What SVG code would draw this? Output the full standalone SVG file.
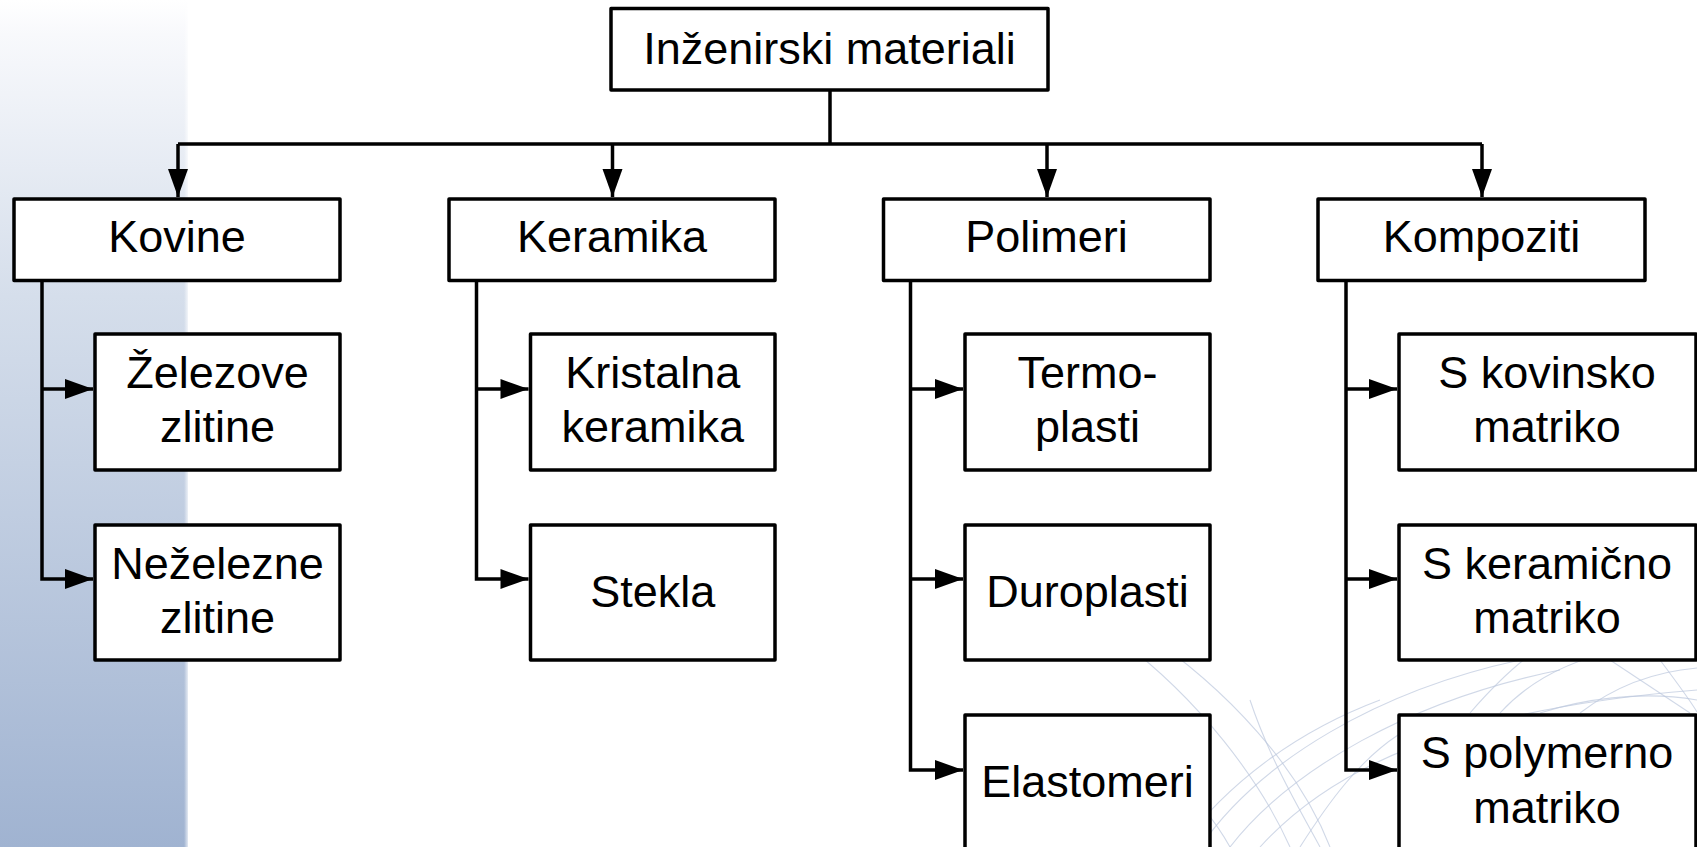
<svg xmlns="http://www.w3.org/2000/svg" width="1697" height="847" viewBox="0 0 1697 847">
  <defs>
    <linearGradient id="bandFill" x1="0" y1="0" x2="0" y2="1">
      <stop offset="0" stop-color="#ffffff"/>
      <stop offset="0.04" stop-color="#f8f9fc"/>
      <stop offset="0.35" stop-color="#d5deeb"/>
      <stop offset="1" stop-color="#a0b3d1"/>
    </linearGradient>
    <linearGradient id="bandEdge" x1="0" y1="0" x2="1" y2="0">
      <stop offset="0" stop-color="#ffffff" stop-opacity="0"/>
      <stop offset="1" stop-color="#ffffff" stop-opacity="0.7"/>
    </linearGradient>
    <marker id="arrow" viewBox="0 0 28 20" markerUnits="userSpaceOnUse" markerWidth="28" markerHeight="20" refX="28" refY="10" orient="auto" overflow="visible">
      <path d="M0,0 L28,10 L0,20 Z" fill="#000"/>
    </marker>
  </defs>
  <style>
    .box { fill: #ffffff; stroke: #000000; stroke-width: 3.5; stroke-linejoin: round; }
    .lbl { font-family: "Liberation Sans", Arial, sans-serif; font-size: 45px; fill: #000000; text-anchor: middle; }
    .wire { fill: none; stroke: #000000; stroke-width: 3.5; }
    .swirl { fill: none; stroke: #bcc8dd; stroke-width: 1.1; opacity: 0.7; }
  </style>

  <rect x="0" y="0" width="1697" height="847" fill="#ffffff"/>

  <!-- left shaded band -->
  <rect x="0" y="0" width="188" height="847" fill="url(#bandFill)"/>
  <rect x="184" y="0" width="4" height="847" fill="url(#bandEdge)"/>

  <!-- faint decorative arcs, lower right -->
  <g id="decor">
    <path class="swirl" d="M1200,847 C1260,760 1380,690 1520,660"/>
    <path class="swirl" d="M1230,847 C1290,770 1410,700 1560,670"/>
    <path class="swirl" d="M1260,847 C1330,770 1450,710 1697,690"/>
    <path class="swirl" d="M1180,847 C1230,780 1300,730 1380,700"/>
    <path class="swirl" d="M1120,640 C1200,700 1260,780 1290,847"/>
    <path class="swirl" d="M1140,630 C1230,690 1300,770 1330,847"/>
    <path class="swirl" d="M1160,760 C1190,790 1215,820 1230,847"/>
    <path class="swirl" d="M1250,700 C1270,760 1300,810 1320,847"/>
    <path class="swirl" d="M1300,847 C1330,800 1360,760 1398,735"/>
    <path class="swirl" d="M1470,713 C1490,690 1510,670 1530,655"/>
    <path class="swirl" d="M1500,713 C1530,680 1570,660 1620,650"/>
    <path class="swirl" d="M1580,713 C1610,690 1650,672 1697,668"/>
    <path class="swirl" d="M1540,713 C1580,700 1640,690 1697,700"/>
    <path class="swirl" d="M1660,660 C1675,680 1690,700 1697,712"/>
    <path class="swirl" d="M1610,660 C1640,680 1670,700 1690,713"/>
  </g>

  <!-- connectors -->
  <g id="connectors">
    <path class="wire" d="M830,90 V144"/>
    <path class="wire" d="M178,144 H1482"/>
    <path class="wire" d="M178,144 V197" marker-end="url(#arrow)"/>
    <path class="wire" d="M612.5,144 V197" marker-end="url(#arrow)"/>
    <path class="wire" d="M1047,144 V197" marker-end="url(#arrow)"/>
    <path class="wire" d="M1482,144 V197" marker-end="url(#arrow)"/>

    <!-- Kovine -->
    <path class="wire" d="M42,281 V579 H93" marker-end="url(#arrow)"/>
    <path class="wire" d="M42,389 H93" marker-end="url(#arrow)"/>
    <!-- Keramika -->
    <path class="wire" d="M476.5,281 V579 H528.5" marker-end="url(#arrow)"/>
    <path class="wire" d="M476.5,389 H528.5" marker-end="url(#arrow)"/>
    <!-- Polimeri -->
    <path class="wire" d="M910.5,281 V770 H963" marker-end="url(#arrow)"/>
    <path class="wire" d="M910.5,389 H963" marker-end="url(#arrow)"/>
    <path class="wire" d="M910.5,579 H963" marker-end="url(#arrow)"/>
    <!-- Kompoziti -->
    <path class="wire" d="M1346,281 V770 H1397" marker-end="url(#arrow)"/>
    <path class="wire" d="M1346,389 H1397" marker-end="url(#arrow)"/>
    <path class="wire" d="M1346,579 H1397" marker-end="url(#arrow)"/>
  </g>

  <!-- root -->
  <g id="node-root">
    <rect class="box" x="611" y="8.5" width="437" height="81.5"/>
    <text class="lbl" x="829.5" y="64">Inženirski materiali</text>
  </g>

  <!-- first level -->
  <g id="node-kovine">
    <rect class="box" x="14" y="199" width="326" height="81.5"/>
    <text class="lbl" x="177" y="252">Kovine</text>
  </g>
  <g id="node-keramika">
    <rect class="box" x="449" y="199" width="326" height="81.5"/>
    <text class="lbl" x="612" y="252">Keramika</text>
  </g>
  <g id="node-polimeri">
    <rect class="box" x="883.5" y="199" width="326.5" height="81.5"/>
    <text class="lbl" x="1046.5" y="252">Polimeri</text>
  </g>
  <g id="node-kompoziti">
    <rect class="box" x="1318" y="199" width="327" height="81.5"/>
    <text class="lbl" x="1481.5" y="252">Kompoziti</text>
  </g>

  <!-- Kovine children -->
  <g id="node-zelezove">
    <rect class="box" x="95" y="334" width="245" height="136"/>
    <text class="lbl" x="217.5" y="388">Železove</text>
    <text class="lbl" x="217.5" y="442">zlitine</text>
  </g>
  <g id="node-nezelezne">
    <rect class="box" x="95" y="525" width="245" height="135"/>
    <text class="lbl" x="217.5" y="579">Neželezne</text>
    <text class="lbl" x="217.5" y="633">zlitine</text>
  </g>

  <!-- Keramika children -->
  <g id="node-kristalna">
    <rect class="box" x="530.5" y="334" width="244.5" height="136"/>
    <text class="lbl" x="652.75" y="388">Kristalna</text>
    <text class="lbl" x="652.75" y="442">keramika</text>
  </g>
  <g id="node-stekla">
    <rect class="box" x="530.5" y="525" width="244.5" height="135"/>
    <text class="lbl" x="652.75" y="607">Stekla</text>
  </g>

  <!-- Polimeri children -->
  <g id="node-termoplasti">
    <rect class="box" x="965" y="334" width="245" height="136"/>
    <text class="lbl" x="1087.5" y="388">Termo-</text>
    <text class="lbl" x="1087.5" y="442">plasti</text>
  </g>
  <g id="node-duroplasti">
    <rect class="box" x="965" y="525" width="245" height="135"/>
    <text class="lbl" x="1087.5" y="607">Duroplasti</text>
  </g>
  <g id="node-elastomeri">
    <rect class="box" x="965" y="715" width="245" height="150"/>
    <text class="lbl" x="1087.5" y="797">Elastomeri</text>
  </g>

  <!-- Kompoziti children -->
  <g id="node-kovinsko">
    <rect class="box" x="1399" y="334" width="297" height="136"/>
    <text class="lbl" x="1547" y="388">S kovinsko</text>
    <text class="lbl" x="1547" y="442">matriko</text>
  </g>
  <g id="node-keramicno">
    <rect class="box" x="1399" y="525" width="297" height="135"/>
    <text class="lbl" x="1547" y="579">S keramično</text>
    <text class="lbl" x="1547" y="633">matriko</text>
  </g>
  <g id="node-polymerno">
    <rect class="box" x="1399" y="715" width="297" height="150"/>
    <text class="lbl" x="1547" y="768">S polymerno</text>
    <text class="lbl" x="1547" y="823">matriko</text>
  </g>
</svg>
